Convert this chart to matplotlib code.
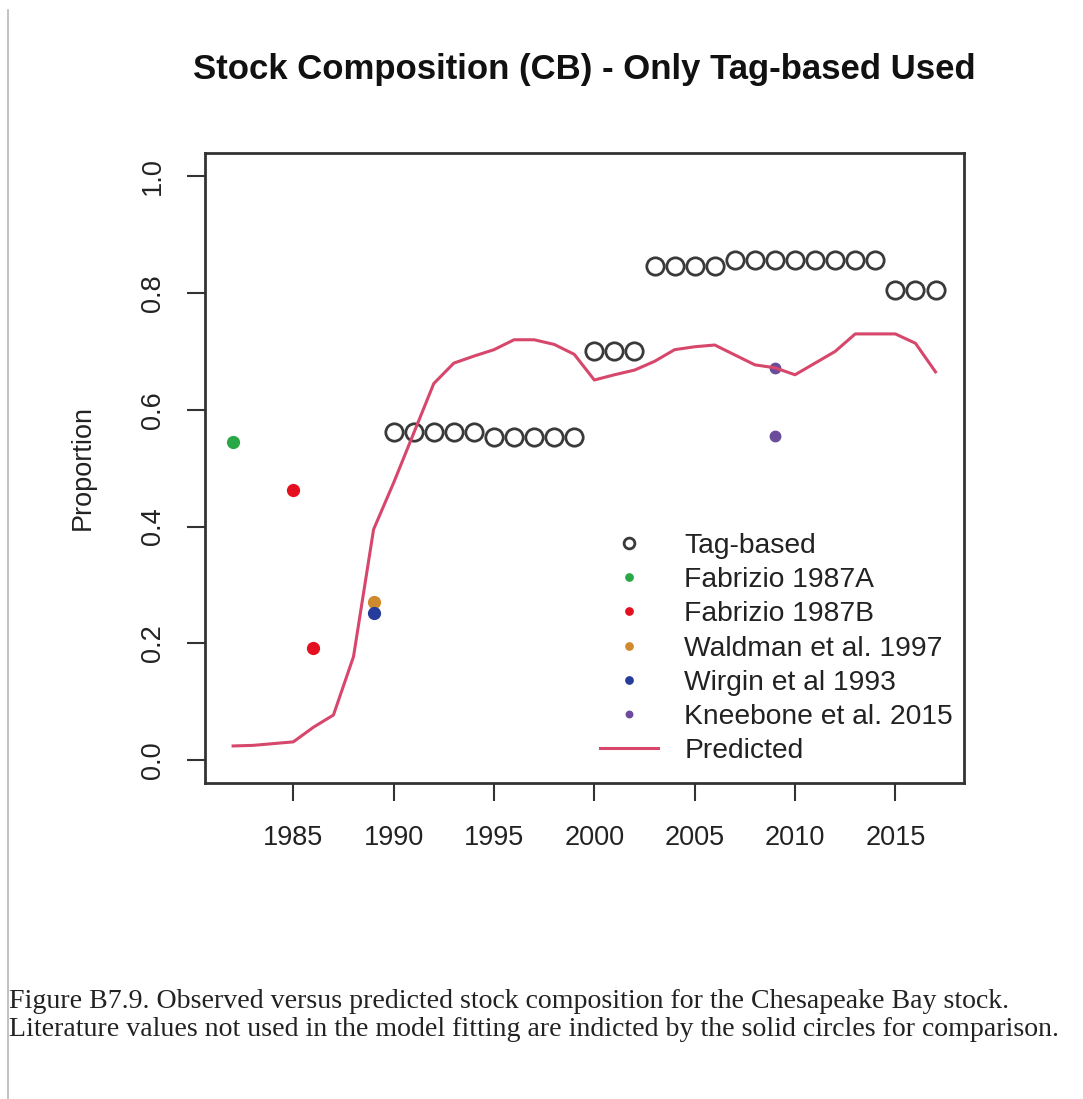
import matplotlib
matplotlib.use("Agg")
import matplotlib.pyplot as plt
from matplotlib.lines import Line2D

plt.rcParams['font.family'] = ['Liberation Sans', 'DejaVu Sans']

# Tag-based observed composition
tag_years = list(range(1990, 2000)) + [2000, 2001, 2002] + list(range(2003, 2007)) \
    + list(range(2007, 2015)) + [2015, 2016, 2017]
tag_values = [0.562] * 5 + [0.554] * 5 + [0.70] * 3 + [0.847] * 4 + [0.857] * 8 + [0.806] * 3

# Literature values (not used in fitting)
fab_a_years = [1982]
fab_a_values = [0.545]
fab_b_years = [1985, 1986]
fab_b_values = [0.462, 0.192]
waldman_years = [1989]
waldman_values = [0.271]
wirgin_years = [1989]
wirgin_values = [0.251]
kneebone_years = [2009, 2009]
kneebone_values = [0.672, 0.555]

# Model predicted composition
pred_years = list(range(1982, 2018))
pred_values = [0.024, 0.025, 0.028, 0.031, 0.056, 0.077, 0.177, 0.395, 0.475, 0.56,
               0.645, 0.680, 0.692, 0.703, 0.720, 0.720, 0.712, 0.695, 0.651, 0.660,
               0.668, 0.683, 0.703, 0.708, 0.711, 0.694, 0.677, 0.672, 0.660, 0.680,
               0.700, 0.730, 0.730, 0.730, 0.714, 0.665]

x_ticks = [1985, 1990, 1995, 2000, 2005, 2010, 2015]
y_ticks = [0.0, 0.2, 0.4, 0.6, 0.8, 1.0]

W, H = 1083, 1099
fig = plt.figure(figsize=(W / 100, H / 100), dpi=100)
fig.patch.set_facecolor('white')

ax = fig.add_axes([205 / W, 1 - 783.3 / H, (963.6 - 205) / W, (783.3 - 153) / H])

ink = '#333333'
ax.plot(tag_years, tag_values, linestyle='none', marker='o', markersize=12.5,
        markerfacecolor='none', markeredgecolor='#3a3a3a', markeredgewidth=2.0,
        label='Tag-based')
ax.plot(fab_a_years, fab_a_values, linestyle='none', marker='o', markersize=8.5,
        color='#2aa845', label='Fabrizio 1987A')
ax.plot(fab_b_years, fab_b_values, linestyle='none', marker='o', markersize=8.5,
        color='#e5101f', label='Fabrizio 1987B')
ax.plot(waldman_years, waldman_values, linestyle='none', marker='o', markersize=8.5,
        color='#d08a2e', label='Waldman et al. 1997')
ax.plot(wirgin_years, wirgin_values, linestyle='none', marker='o', markersize=8.5,
        color='#263c9c', label='Wirgin et al 1993')
ax.plot(kneebone_years, kneebone_values, linestyle='none', marker='o', markersize=7.5,
        color='#6b4c9a', label='Kneebone et al. 2015')
ax.plot(pred_years, pred_values, color='#d6476b', linewidth=2.2, label='Predicted')

ax.set_xlim(1980.6, 2018.4)
ax.set_ylim(-0.04, 1.04)
ax.set_xticks(x_ticks)
ax.set_yticks(y_ticks)
ax.set_xticklabels([str(t) for t in x_ticks])
ax.set_yticklabels([f'{t:.1f}' for t in y_ticks], rotation=90, va='center')

for s in ax.spines.values():
    s.set_linewidth(2.0)
    s.set_color(ink)
ax.tick_params(axis='both', length=13, width=1.5, color=ink, labelsize=19.5,
               labelcolor='#222222')
ax.tick_params(axis='x', pad=17)
ax.tick_params(axis='y', pad=15)

leg = ax.legend(loc='upper left', bbox_to_anchor=((600 - 205) / 758.6, (783.3 - 533) / 630.3),
                frameon=False, fontsize=20.3, borderpad=0, borderaxespad=0,
                handlelength=2.05, handletextpad=0.94, labelspacing=0.29,
                markerscale=0.62)
for t in leg.get_texts():
    t.set_color('#222222')

fig.text(584 / W, 1 - 70 / H, 'Stock Composition (CB) - Only Tag-based Used',
         ha='center', va='center', fontsize=25, fontweight='bold', color='#111111')
fig.text(83 / W, 1 - 467 / H, 'Proportion', rotation=90, ha='center', va='center',
         fontsize=19.5, color='#222222')

caption_lines = [
    'Figure B7.9. Observed versus predicted stock composition for the Chesapeake Bay stock.',
    'Literature values not used in the model fitting are indicted by the solid circles for comparison.',
]
for i, line in enumerate(caption_lines):
    fig.text(9 / W, 1 - (1002 + 27.5 * i) / H, line, ha='left', va='center',
             fontsize=20.1, family=['Liberation Serif', 'DejaVu Serif'], color='#222222')

# page margin rule on the left edge
fig.add_artist(Line2D([8 / W, 8 / W], [0, 1 - 10 / H], color='#b8b8b8', linewidth=1.2))

fig.savefig('out.png', dpi=100)
